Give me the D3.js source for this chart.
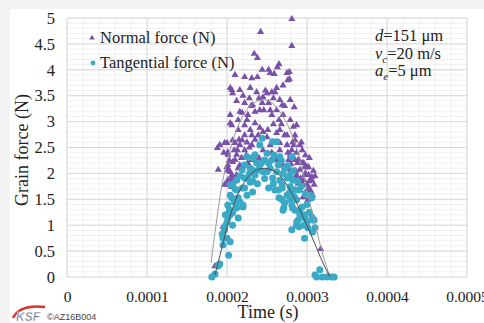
<!DOCTYPE html>
<html><head><meta charset="utf-8">
<script src="https://cdn.jsdelivr.net/npm/d3@7"></script>
<style>
html,body{margin:0;padding:0;background:#f3f3f3;}
svg{display:block;}
</style></head>
<body><svg id="c" width="484" height="323"></svg>
<script>
// ---- data (time in seconds, force in N) ----
const xTicks = [0, 0.0001, 0.0002, 0.0003, 0.0004, 0.0005];
const xTickLabels = ["0", "0.0001", "0.0002", "0.0003", "0.0004", "0.0005"];
const yTicks = [0, 0.5, 1, 1.5, 2, 2.5, 3, 3.5, 4, 4.5, 5];
const yTickLabels = ["0", "0.5", "1", "1.5", "2", "2.5", "3", "3.5", "4", "4.5", "5"];
const seriesNames = ["Normal force (N)", "Tangential force (N)"];

const normalTimeUs = [281,242,281,234,238,265,263,244,252,259,278,278,210,222,231,238,206,216,229,250,260,237,254,275,276,204,207,245,256,266,279,232,241,254,262,270,279,287,219,225,235,204,214,229,241,251,266,275,285,291,207,219,231,239,254,266,279,289,297,200,191,201,210,222,231,201,212,262,270,279,287,189,200,204,200,188,197,216,216,204,207,197,266,275,281,285,280,291,287,294,297,306,300,307,295,301,291,222,230,244,216,226,235,214,222,204,206,222,231,210,201,212,207,214,206,212,201,206,252,269,284,246,256,265,262,272,285,294,284,277,290,296,302,306,300,309,288,294,300,302,296,304,297,302,305,195,188,185,201,202,317,327,245,256,240,
  213,218,224,228,226,209,203,196,215,225,235,245,250,258,268,272,258,248,240,228,220,212,262,270,283,293,298,303,308,310,298,292,289,303,286,282,276,287];
const normalForce = [4.98,4.73,4.46,4.31,4.23,4.11,4.05,4.00,4.00,3.92,3.96,3.82,3.90,3.86,3.84,3.86,3.61,3.61,3.65,3.55,3.57,3.57,3.94,3.94,3.80,3.65,3.55,3.47,3.57,3.42,3.42,3.32,3.22,3.22,3.22,3.13,3.03,2.93,3.17,3.03,2.97,2.97,2.84,2.84,2.88,2.84,2.84,2.74,2.64,2.55,2.64,2.64,2.55,2.74,2.55,2.45,2.36,2.26,2.12,2.59,2.55,2.36,2.26,2.45,2.26,2.07,1.97,2.26,2.16,2.07,1.97,2.07,2.12,1.87,1.78,2.49,2.59,2.55,2.16,2.03,1.91,1.78,2.59,2.55,2.45,2.26,2.18,2.07,1.91,1.81,1.97,1.87,1.68,1.58,1.54,1.49,1.68,3.36,3.30,3.36,3.19,3.13,3.19,3.03,2.93,3.13,2.93,2.74,2.74,2.59,2.41,2.36,2.22,2.10,1.97,1.87,1.87,1.74,3.36,3.32,3.28,3.22,3.13,3.03,2.78,2.74,2.74,2.45,2.55,2.26,2.26,2.20,2.12,1.93,1.78,1.78,2.20,2.20,2.12,1.97,1.87,1.68,1.58,1.72,1.64,0.97,0.23,0.21,2.16,2.05,0.54,0.02,2.45,2.40,2.30,
  2.45,2.30,2.35,2.50,2.20,2.45,2.25,2.40,2.65,2.60,2.65,2.80,2.70,2.95,2.95,3.30,3.45,3.60,3.45,3.45,3.50,3.40,3.65,3.70,2.90,2.60,2.35,2.30,2.05,1.95,2.00,1.90,1.80,1.85,2.05,2.60,2.40,2.40];

const tangentialTimeUs = [244,241,257,262,225,235,250,266,281,232,247,256,222,231,241,254,262,279,264,272,219,229,239,250,275,282,212,222,235,245,266,285,207,219,229,257,269,275,287,204,214,225,264,279,269,282,291,297,201,212,220,270,289,300,307,204,200,207,214,281,287,301,307,297,197,200,195,204,202,204,212,222,232,206,220,207,201,197,195,194,181,185,189,191,252,260,269,279,290,304,306,265,272,281,271,285,291,297,306,287,296,309,290,310,316,310,312,319,325,331,334,
  226,232,238,247,243,237,228,216,210,216,209,203,198,252,259,268,276,283,288,293,298,300,294,303,278,284,258,270];
const tangentialForce = [2.68,2.55,2.61,2.61,2.32,2.36,2.39,2.32,2.32,2.30,2.26,2.26,2.16,2.07,2.16,2.10,2.03,1.97,2.16,2.10,2.07,2.10,2.07,2.03,1.91,1.87,1.87,1.91,1.97,2.03,1.87,1.68,1.78,1.72,1.83,1.91,1.72,1.58,1.49,1.58,1.53,1.58,1.68,1.49,1.49,1.33,1.29,1.20,1.39,1.33,1.39,1.29,1.10,1.06,1.10,1.20,1.06,1.00,1.14,0.91,1.00,0.95,0.87,0.75,0.91,0.75,0.62,0.68,0.42,1.78,1.68,1.72,1.64,1.53,1.35,1.24,1.14,0.97,0.75,0.83,0,0.06,0.21,0.25,1.72,1.68,1.78,1.74,1.68,1.58,1.53,1.53,1.43,1.39,1.33,1.29,1.20,1.14,1.16,1.06,1.00,1.10,0.97,0.95,0.14,0.04,0,0,0,0,0,
  1.90,1.85,1.80,1.90,2.20,2.20,2.00,1.95,1.70,1.45,1.45,1.30,1.20,2.20,2.35,2.25,2.15,2.05,1.85,1.75,1.60,1.40,1.35,1.25,1.62,1.55,1.80,2.00];

// trend lines
const normalTrendUs = [180,186.25,193.75,203.75,216.25,228.75,243.75,256.25,268.75,281.25,291.25,301.25,311.25,320,328.75];
const normalTrendF  = [0.27,1.00,1.78,2.45,3.00,3.30,3.42,3.36,3.13,2.74,2.26,1.58,0.95,0.42,0];
const tangTrendUs = [185,191.25,200,207.5,216.25,231.25,246.25,262.5,278.75,291.25,306.25,320,328.75];
const tangTrendF  = [0.04,0.42,0.95,1.35,1.68,2.01,2.10,2.01,1.68,1.29,0.77,0.27,0];

const annotationLines = [
  [["d", "i"], ["=151 μm", "n"]],
  [["v", "i"], ["c", "sub"], ["=20 m/s", "n"]],
  [["a", "i"], ["e", "sub"], ["=5 μm", "n"]]
];

// ---- drawing ----
const svg = d3.select("#c");
const W = 484, H = 323;
const serif = "'Liberation Serif','Times New Roman',serif";
const purple = "#7a51a8", teal = "#3aa9c6";

svg.append("rect").attr("x", 10).attr("y", 9).attr("width", W - 10).attr("height", H - 9).attr("fill", "#fff");

const x = d3.scaleLinear().domain([0, 0.0005]).range([67, 467]);
const y = d3.scaleLinear().domain([0, 5]).range([277, 18]);

// minor grid
const g = svg.append("g");
g.selectAll(".mx").data(d3.range(0, 0.00050001, 0.00002)).join("line")
  .attr("x1", d => x(d)).attr("x2", d => x(d)).attr("y1", y(0)).attr("y2", y(5))
  .attr("stroke", "#f0f0f0").attr("stroke-width", 1);
g.selectAll(".my").data(d3.range(0, 5.0001, 0.1)).join("line")
  .attr("y1", d => y(d)).attr("y2", d => y(d)).attr("x1", x(0)).attr("x2", x(0.0005))
  .attr("stroke", "#f0f0f0").attr("stroke-width", 1);
// major grid
g.selectAll(".Mx").data(xTicks).join("line")
  .attr("x1", d => x(d)).attr("x2", d => x(d)).attr("y1", y(0)).attr("y2", y(5))
  .attr("stroke", "#d9d9d9").attr("stroke-width", 1);
g.selectAll(".My").data(yTicks).join("line")
  .attr("y1", d => y(d)).attr("y2", d => y(d)).attr("x1", x(0)).attr("x2", x(0.0005))
  .attr("stroke", "#d9d9d9").attr("stroke-width", 1);

// axes (labels only)
const xAxis = d3.axisBottom(x).tickValues(xTicks).tickFormat((d, i) => xTickLabels[i]).tickSize(0).tickPadding(10);
const xa = svg.append("g").attr("transform", `translate(0,${y(0)})`).call(xAxis);
xa.attr("font-family", serif);
xa.select(".domain").remove();
xa.selectAll("text").attr("font-family", serif).attr("font-size", 15.5).attr("fill", "#222").attr("dy", "0.95em");

const yAxis = d3.axisLeft(y).tickValues(yTicks).tickFormat((d, i) => yTickLabels[i]).tickSize(0).tickPadding(12);
const ya = svg.append("g").attr("transform", `translate(${x(0)},0)`).call(yAxis);
ya.attr("font-family", serif);
ya.select(".domain").remove();
ya.selectAll("text").attr("font-family", serif).attr("font-size", 16.5).attr("fill", "#222");

// axis titles
svg.append("text").attr("transform", "translate(28,150) rotate(-90)").attr("text-anchor", "middle")
  .attr("font-family", serif).attr("font-size", 18).attr("fill", "#222").text("Grain force (N)");
svg.append("text").attr("x", 268).attr("y", 318).attr("text-anchor", "middle")
  .attr("font-family", serif).attr("font-size", 18).attr("fill", "#222").text("Time (s)");

// scatter
const normal = normalTimeUs.map((t, i) => ({ t: t * 1e-6, f: normalForce[i] }));
const tang = tangentialTimeUs.map((t, i) => ({ t: t * 1e-6, f: tangentialForce[i] }));
const tri = d3.symbol().type(d3.symbolTriangle).size(22);
svg.append("g").selectAll("path").data(normal).join("path")
  .attr("d", tri).attr("transform", d => `translate(${x(d.t)},${y(d.f)})`).attr("fill", purple);
svg.append("g").selectAll("circle").data(tang).join("circle")
  .attr("cx", d => x(d.t)).attr("cy", d => y(d.f)).attr("r", 3.5).attr("fill", teal);

// trend lines
const line = d3.line().x(d => x(d[0] * 1e-6)).y(d => y(d[1])).curve(d3.curveCatmullRom);
svg.append("path").attr("d", line(normalTrendUs.map((t, i) => [t, normalTrendF[i]])))
  .attr("fill", "none").attr("stroke", "#9a9a9a").attr("stroke-width", 1);
svg.append("path").attr("d", line(tangTrendUs.map((t, i) => [t, tangTrendF[i]])))
  .attr("fill", "none").attr("stroke", "#4d4d4d").attr("stroke-width", 1);

// legend
const leg = svg.append("g");
leg.append("path").attr("d", d3.symbol().type(d3.symbolTriangle).size(13)).attr("transform", "translate(92,38)").attr("fill", purple);
leg.append("circle").attr("cx", 93).attr("cy", 63).attr("r", 2.4).attr("fill", teal);
leg.selectAll("text").data(seriesNames).join("text")
  .attr("x", 100).attr("y", (d, i) => 43 + i * 25)
  .attr("font-family", serif).attr("font-size", 16.5).attr("fill", "#222").text(d => d);

// annotation
const ann = svg.append("g");
annotationLines.forEach((parts, li) => {
  const t = ann.append("text").attr("x", 375).attr("y", 41 + li * 17.5)
    .attr("font-family", serif).attr("font-size", 16.5).attr("fill", "#222");
  const hasSub = parts.some(p => p[1] === "sub");
  parts.forEach(([s, kind]) => {
    const sp = t.append("tspan").text(s);
    if (kind === "i") sp.attr("font-style", "italic");
    if (kind === "sub") sp.attr("font-style", "italic").attr("font-size", 11).attr("dy", 4);
    if (kind === "n" && hasSub) sp.attr("dy", -4);
  });
});

// logo
const logo = svg.append("g");
logo.append("path").attr("d", "M13,318 Q20,304 45,307").attr("fill", "none").attr("stroke", "#d9342b").attr("stroke-width", 2.4);
logo.append("text").attr("x", 16).attr("y", 321).attr("font-family", "'Liberation Sans',Arial,sans-serif")
  .attr("font-weight", "bold").attr("font-style", "italic").attr("font-size", 12).attr("fill", "#6d7f98")
  .attr("stroke", "#fff").attr("stroke-width", 0.4).text("KSF");
logo.append("text").attr("x", 47).attr("y", 320).attr("font-family", "'Liberation Sans',Arial,sans-serif")
  .attr("font-size", 9).attr("fill", "#444").text("©AZ16B004");
</script>
</body></html>
